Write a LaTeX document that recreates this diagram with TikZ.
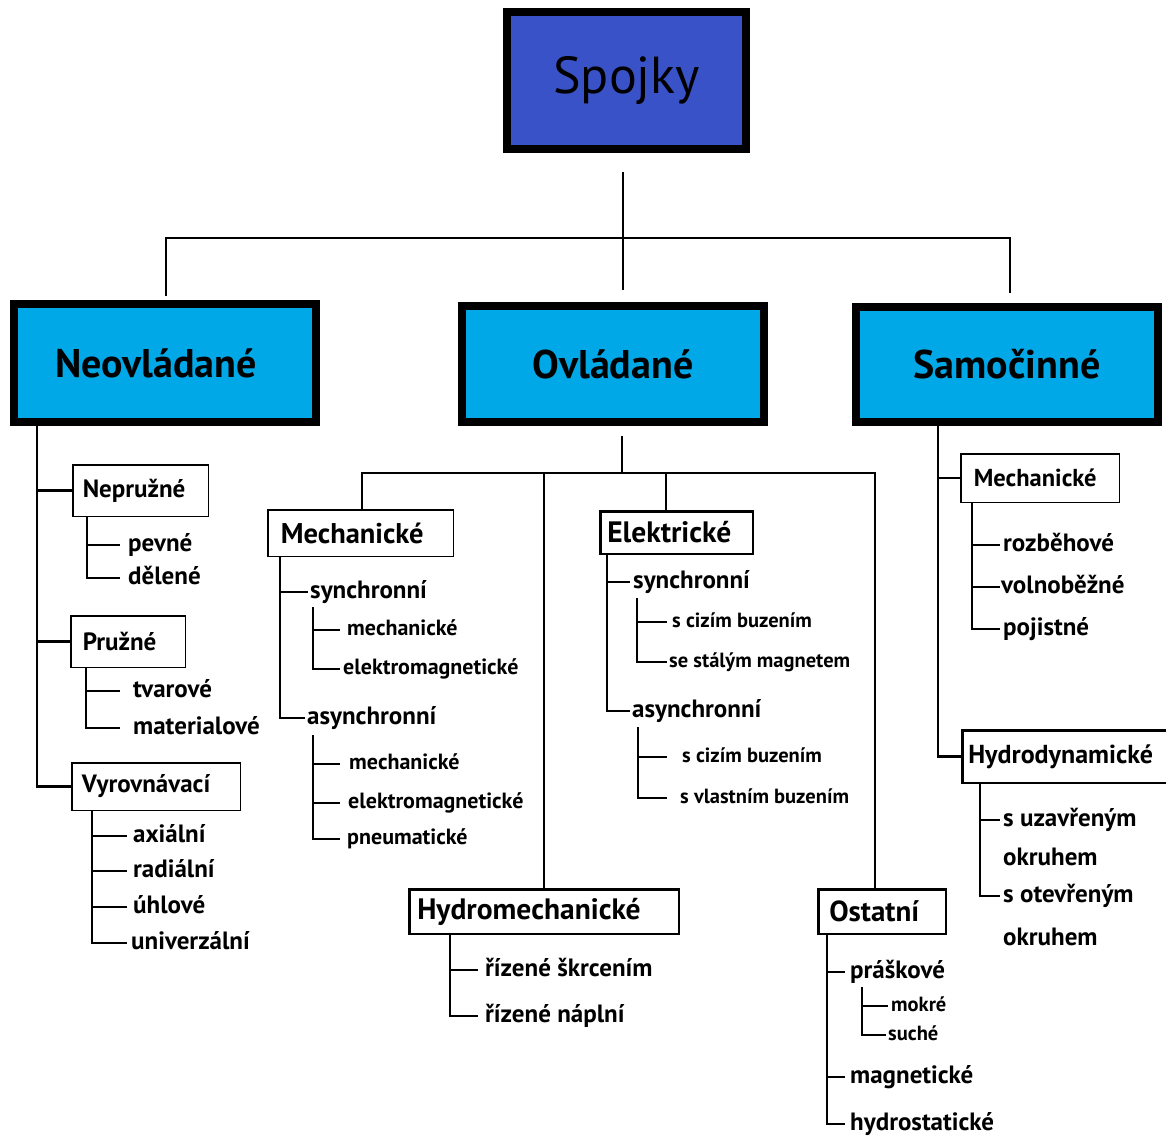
\documentclass[tikz,border=0pt]{standalone}
\usepackage{fontspec}
\setmainfont{PT Sans}
\definecolor{topblue}{HTML}{3A52C8}
\definecolor{mainblue}{HTML}{00A8E8}
\newcommand\tickto[3]{\draw[ln] (#1 |- #2.west) -- ([xshift=-#3]#2.west);}
\newcommand\stemto[3]{\draw[ln] (#1) |- ([xshift=-#3]#2.west);}
\begin{document}
\begin{tikzpicture}[x=1pt,y=-1pt,
  ln/.style={line width=2.2pt},
  mainbox/.style={draw=black, line width=8pt, fill=mainblue, inner sep=0pt, minimum width=302pt, font=\bfseries\fontsize{40}{44}\selectfont},
  subbox/.style={draw=black, line width=1.5pt, inner ysep=0pt, align=left, font=\bfseries\fontsize{25}{28}\selectfont},
  thickbox/.style={subbox, line width=2.5pt, font=\bfseries\fontsize{29.5}{32}\selectfont},
  item/.style={anchor=west, inner sep=0pt, text height=12.5pt, text depth=0pt, font=\bfseries\fontsize{25}{28}\selectfont},
  sitem/.style={item, text height=11pt, font=\bfseries\fontsize{22}{25}\selectfont},
  eitem/.style={item, text height=10pt, font=\bfseries\fontsize{20.5}{23}\selectfont}]
\useasboundingbox (0,0) rectangle (1166,1137);
\fill[white] (0,0) rectangle (1166,1137);

% main boxes
\node[mainbox, fill=topblue, minimum width=239pt, minimum height=137pt, font=\fontsize{52}{56}\selectfont] (spojky) at (626.5,80.5) {Spojky};
\node[mainbox, minimum height=118pt] (neo) at (165,363) {Neovládané\hspace*{18pt}};
\node[mainbox, minimum height=116pt] (ovl) at (613,364) {Ovládané};
\node[mainbox, minimum height=115pt] (sam) at (1007,364.5) {Samočinné};

% top connectors
\coordinate (hub) at (623,238);
\draw[ln] ([xshift=-3.5,yshift=-19]spojky.south) -- ([xshift=10,yshift=12]ovl.north);
\draw[ln] ([xshift=1,yshift=4]neo.north) |- (hub) -| ([xshift=3,yshift=10]sam.north);

% ---------------- Neovladane
\node[subbox, minimum width=135.5pt, minimum height=51.5pt, text width=115.5pt, inner xsep=10pt] (nepr) at (140.5,490.5) {Nepružné};
\node[subbox, minimum width=110.5pt, minimum height=51.5pt, text width=90.5pt, inner xsep=12pt] (pruz) at (128,641.5) {Pružné};
\node[subbox, minimum width=168.5pt, minimum height=47.5pt, text width=148.5pt, inner xsep=8pt] (vyr) at (156,786.5) {Vyrovnávací};

\coordinate (nt) at ([xshift=27]neo.south west);
\draw[ln] (nt) |- (vyr.west);
\draw[ln] (nt |- nepr.west) -- (nepr.west);
\draw[ln] (nt |- pruz.west) -- (pruz.west);

\node[item] (pevne) at (128,545) {pevné};
\node[item] (delene) at (128,578) {dělené};
\coordinate (s1) at ([xshift=15]nepr.south west);
\stemto{s1}{delene}{8}
\tickto{s1}{pevne}{8}

\node[item] (tvar) at (133,691) {tvarové};
\node[item] (mater) at (133,728) {materialové};
\coordinate (s2) at ([xshift=16]pruz.south west);
\stemto{s2}{mater}{13}
\tickto{s2}{tvar}{13}

\node[item] (axi) at (133,836) {axiální};
\node[item] (rad) at (133,871) {radiální};
\node[item] (uhl) at (133,907) {úhlové};
\node[item] (uni) at (131,943) {univerzální};
\coordinate (s3) at ([xshift=21]vyr.south west);
\stemto{s3}{uni}{4}
\tickto{s3}{axi}{6}
\tickto{s3}{rad}{6}
\tickto{s3}{uhl}{6}

% ---------------- Ovladane
\node[subbox, minimum width=179.5pt, minimum height=46.5pt, text width=159.5pt, inner xsep=13pt, font=\bfseries\fontsize{28.5}{31}\selectfont] (mechL) at (360.5,533) {Mechanické};
\node[thickbox, minimum width=152.5pt, minimum height=42.5pt, text width=138.5pt, inner xsep=7pt] (elek) at (676.5,532.5) {Elektrické};
\node[thickbox, minimum width=269.5pt, minimum height=44.5pt, text width=253.5pt, inner xsep=8pt] (hydm) at (544,911.5) {Hydromechanické};
\node[thickbox, minimum width=125.5pt, minimum height=44.5pt, text width=105.5pt, inner xsep=11pt, font=\bfseries\fontsize{29}{32}\selectfont] (ost) at (882,911.5) {Ostatní};

\coordinate (ohub) at (622,473);
\draw[ln] ([xshift=9,yshift=-10]ovl.south) -- (ohub);
\draw[ln] ([xshift=1.5]mechL.north) |- (ohub);
\draw[ln] ([xshift=-7]ost.north) |- (ohub);
\draw[ln] ([xshift=-10.5]elek.north) |- (ohub);
\draw[ln] (hydm.north) |- (ohub);

% Mechanicke (left)
\node[item] (msyn) at (310,592) {synchronní};
\node[item] (masyn) at (307,718) {asynchronní};
\coordinate (s4) at ([xshift=13]mechL.south west);
\stemto{s4}{masyn}{2}
\tickto{s4}{msyn}{2}
\node[sitem] (msm) at (347,630) {mechanické};
\node[sitem] (mse) at (343,669) {elektromagnetické};
\coordinate (s5) at ([xshift=3,yshift=-15]msyn.west);
\stemto{s5}{mse}{3}
\tickto{s5}{msm}{7}
\node[sitem] (mam) at (349,764) {mechanické};
\node[sitem] (mae) at (348,803) {elektromagnetické};
\node[sitem] (map) at (347,839) {pneumatické};
\coordinate (s6) at ([xshift=6,yshift=-17]masyn.west);
\stemto{s6}{map}{7}
\tickto{s6}{mam}{9}
\tickto{s6}{mae}{8}

% Elektricke
\node[item] (esyn) at (633,582) {synchronní};
\node[item] (easyn) at (632,711) {asynchronní};
\coordinate (s7) at ([xshift=8]elek.south west);
\stemto{s7}{easyn}{2}
\tickto{s7}{esyn}{3}
\node[eitem] (esc) at (672,622) {s cizím buzením};
\node[eitem] (ess) at (669,662) {se stálým magnetem};
\coordinate (s8) at ([xshift=4,yshift=-16]esyn.west);
\stemto{s8}{ess}{2}
\tickto{s8}{esc}{5}
\node[eitem] (eac) at (682,757) {s cizím buzením};
\node[eitem] (eav) at (680,798) {s vlastním buzením};
\coordinate (s9) at ([xshift=6,yshift=-16]easyn.west);
\stemto{s9}{eav}{13}
\tickto{s9}{eac}{15}

% Hydromechanicke
\node[item] (hskr) at (485,970) {řízené škrcením};
\node[item] (hnap) at (485,1016) {řízené náplní};
\coordinate (s10) at ([xshift=42]hydm.south west);
\stemto{s10}{hnap}{7}
\tickto{s10}{hskr}{7}

% Ostatni
\node[item] (prask) at (850,972) {práškové};
\node[item] (magn) at (850,1077) {magnetické};
\node[item] (hydst) at (850,1124) {hydrostatické};
\coordinate (s11) at ([xshift=10]ost.south west);
\stemto{s11}{hydst}{5}
\tickto{s11}{prask}{5}
\tickto{s11}{magn}{5}
\node[eitem] (mokre) at (891,1006) {mokré};
\node[eitem] (suche) at (888,1035) {suché};
\coordinate (s12) at ([xshift=12,yshift=-15]prask.west);
\stemto{s12}{suche}{2}
\tickto{s12}{mokre}{3}

% ---------------- Samocinne
\node[subbox, minimum width=154.5pt, minimum height=48.5pt, text width=132.5pt, inner xsep=13pt, font=\bfseries\fontsize{24.5}{27}\selectfont] (mechR) at (1040,478) {Mechanické};
\node[thickbox, minimum width=208.5pt, minimum height=52.5pt, text width=196.5pt, inner xsep=6pt, font=\bfseries\fontsize{26}{29}\selectfont] (hydd) at (1066.5,756.5) {Hydrodynamické};

\coordinate (st) at ([xshift=-69]sam.south);
\draw[ln] (st) |- (hydd.west);
\draw[ln] (st |- mechR.west) -- (mechR.west);

\node[item] (rozb) at (1003,545) {rozběhové};
\node[item] (voln) at (1001,587) {volnoběžné};
\node[item] (poji) at (1003,629) {pojistné};
\coordinate (s13) at ([xshift=12]mechR.south west);
\stemto{s13}{poji}{3}
\tickto{s13}{rozb}{3}
\tickto{s13}{voln}{1}

\node[item] (uzav) at (1003,820) {s uzavřeným};
\node[item] (okr1) at (1003,859) {okruhem};
\node[item] (otev) at (1003,896) {s otevřeným};
\node[item] (okr2) at (1003,939) {okruhem};
\coordinate (s14) at ([xshift=19]hydd.south west);
\stemto{s14}{otev}{3}
\tickto{s14}{uzav}{3}
\end{tikzpicture}
\end{document}
